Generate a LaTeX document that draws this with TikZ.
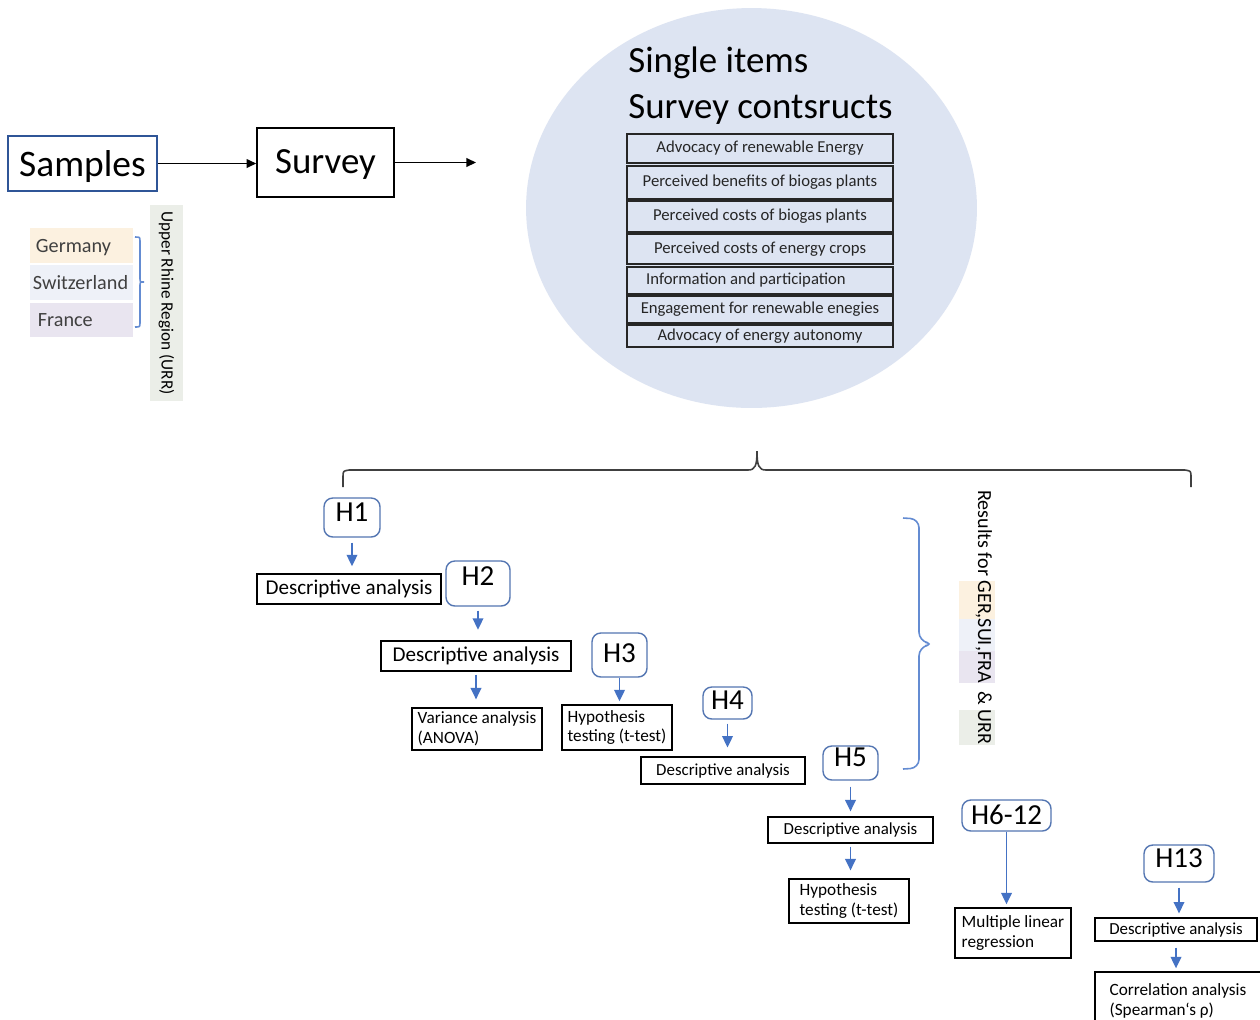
\documentclass[tikz,border=0pt]{standalone}
\usepackage{fontspec}
\setmainfont{Carlito}
\usetikzlibrary{arrows.meta,shapes.geometric}

\definecolor{circfill}{RGB}{221,228,242}
\definecolor{gerfill}{RGB}{252,241,224}
\definecolor{suifill}{RGB}{238,241,248}
\definecolor{frafill}{RGB}{233,229,240}
\definecolor{urrfill}{RGB}{235,238,232}
\definecolor{hblue}{RGB}{84,118,178}
\definecolor{ablue}{RGB}{68,114,196}
\definecolor{sblue}{RGB}{47,85,151}
\definecolor{bblue}{RGB}{100,140,210}
\definecolor{labgray}{RGB}{64,64,64}

% box given by its corners: name, x1, y1, x2, y2, style, text
\newcommand\bx[7]{%
  \node[#6, minimum width={(#4-#2)*0.02cm}, minimum height={(#5-#3)*0.02cm}]
    (#1) at ({(#2+#4)/2},{(#3+#5)/2}) {#7};}
% highlighted word inside the vertical caption
\newcommand\hlt[2]{{\setlength{\fboxsep}{0pt}\colorbox{#1}{\rule[-11pt]{0pt}{20.6pt}#2}}}

\begin{document}
\begin{tikzpicture}[x=0.02cm,y=-0.02cm,
  rowbox/.style={draw=black!85, line width=0.7pt, inner sep=0pt,
    font=\fontsize{9.5}{11}\selectfont, text=black!85},
  plainbox/.style={draw=black, line width=0.8pt, inner sep=0pt},
  descbig/.style={plainbox, font=\fontsize{12}{14}\selectfont},
  descsmall/.style={plainbox, font=\fontsize{9.6}{11}\selectfont},
  methodbox/.style={plainbox, font=\fontsize{9.8}{11.2}\selectfont, align=left},
  hbox/.style={draw=hblue, line width=0.8pt, rounded corners=5pt, inner sep=0pt,
    font=\fontsize{16.5}{18}\selectfont},
  flowarrow/.style={draw=ablue, line width=1pt, -{Triangle[length=6.5pt,width=6pt]}},
  pointer/.style={draw=black, line width=0.8pt, -{Triangle[length=5.5pt,width=5pt]}},
  country/.style={inner sep=0pt, text depth=0pt, text=labgray,
    font=\fontsize{11.5}{13}\selectfont, align=left, text width=2.06cm},
  bracepen/.style={draw=bblue, line width=0.9pt},
  bigbrace/.style={draw=black!75, line width=0.9pt},
  heading/.style={anchor=base west, inner sep=0pt, font=\fontsize{21}{25}\selectfont}]

\useasboundingbox (0,0) rectangle (1260,1019);
\fill[white] (0,0) rectangle (1260,1019);

% ---------- survey constructs ----------
\node[ellipse, fill=circfill, inner sep=0pt, minimum width=9.02cm, minimum height=8cm]
  (cloud) at (751.5,208) {};
\node[heading] (single) at (628,72) {Single items};
\node[heading] (constr) at (628,118) {Survey contsructs};

\bx{r1}{627}{134}{893}{163}{rowbox}{Advocacy of renewable Energy}
\bx{r2}{627}{166}{893}{199}{rowbox}{Perceived benefits of biogas plants}
\bx{r3}{627}{201}{893}{232}{rowbox}{Perceived costs of biogas plants}
\bx{r4}{627}{234}{893}{264}{rowbox}{Perceived costs of energy crops}
\bx{r5}{627}{267}{893}{294}{rowbox}{Information and participation\hspace*{16pt}}
\bx{r6}{627}{296}{893}{323}{rowbox}{Engagement for renewable enegies}
\bx{r7}{627}{325}{893}{347}{rowbox}{Advocacy of energy autonomy}

% ---------- samples and survey ----------
\bx{samples}{8}{136}{157}{191}{draw=sblue, line width=0.9pt, inner sep=0pt, text depth=0pt,
  font=\fontsize{21.3}{25}\selectfont}{Samples}
\bx{survey}{257}{128}{394}{197}{draw=black, line width=0.9pt, inner sep=0pt, text depth=1pt,
  font=\fontsize{21}{25}\selectfont}{Survey}
\coordinate (survout) at (476,160);
\draw[pointer] (samples.east) -- (samples.east -| survey.west);
\draw[pointer] (survey.east) -- (survey.east -| survout);

\bx{ger}{30}{228}{133}{263}{country, fill=gerfill}{\hspace*{3.4pt}Germany}
\bx{sui}{30}{265}{133}{300}{country, fill=suifill}{\hspace*{1.7pt}Switzerland}
\bx{fra}{30}{303}{133}{337}{country, fill=frafill}{\hspace*{4.5pt}France}
\draw[bracepen] (135,237) .. controls (140,237) .. (140,242) -- (140,278)
  .. controls (140,282) .. (144,282) .. controls (140,282) .. (140,286) -- (140,322)
  .. controls (140,327) .. (135,327);
\node[rotate=-90, fill=urrfill, minimum width=3.92cm, minimum height=0.66cm, inner sep=0pt,
  font=\fontsize{9.8}{11}\selectfont] (urr) at (166.5,303) {Upper Rhine Region (URR)};

% ---------- hypotheses ----------
\draw[bigbrace] (343,487) -- (343,477) .. controls (343,471) .. (349,470) -- (748,470)
  .. controls (755,470) and (757,466) .. (757,451)
  .. controls (757,466) and (759,470) .. (766,470) -- (1185,470)
  .. controls (1191,471) .. (1191,477) -- (1191,487);

\bx{h1}{324}{498}{380}{537}{hbox, text depth=5.7pt}{H1}
\bx{d1}{257}{574}{441}{604}{descbig}{Descriptive analysis}
\bx{h2}{446}{561}{510}{606}{hbox, text depth=8pt}{H2}
\bx{d2}{381}{641}{571}{671}{descbig}{Descriptive analysis}
\bx{anova}{412}{708}{542}{750}{methodbox}{Variance analysis\\(ANOVA)}
\bx{h3}{592}{633}{647}{677}{hbox, text depth=1.7pt}{H3}
\bx{t1}{562}{705}{672}{750}{methodbox}{Hypothesis\\testing (t-test)}
\bx{h4}{703}{687}{752}{719}{hbox, text depth=3.4pt}{H4}
\bx{d4}{641}{757}{805}{784}{descsmall}{Descriptive analysis}
\bx{h5}{823}{746}{878}{780}{hbox, text depth=6.8pt}{H5}
\bx{d5}{768}{817}{933}{843}{descsmall}{Descriptive analysis}
\bx{t2}{789}{879}{909}{923}{methodbox}{Hypothesis\\testing (t-test)}
\bx{h6}{962}{800}{1051}{831}{hbox, text depth=1.1pt}{H6-12}
\bx{mlr}{955}{908}{1071}{958}{methodbox}{Multiple linear\\regression}
\bx{h13}{1144}{845}{1214}{882}{hbox, text depth=5.7pt}{H13}
\bx{d13}{1095}{918}{1257}{941}{descsmall}{Descriptive analysis}
\bx{corr}{1095}{972}{1261}{1030}{methodbox}{Correlation analysis\\(Spearman‘s ρ)}

\draw[flowarrow, shorten <=2.8pt, shorten >=4pt] (h1.south) -- (h1.south |- d1.north);
\draw[flowarrow, shorten <=2.2pt, shorten >=6pt] (h2.south) -- (h2.south |- d2.north);
\draw[flowarrow, shorten <=1.7pt, shorten >=4.5pt] (d2.south) -- (d2.south |- anova.north);
\draw[flowarrow, shorten <=0pt, shorten >=1.7pt] (h3.south) -- (h3.south |- t1.north);
\draw[flowarrow, shorten <=2.2pt, shorten >=5pt] (h4.south) -- (h4.south |- d4.north);
\draw[flowarrow, shorten <=3.4pt, shorten >=2.8pt] (h5.south) -- (h5.south |- d5.north);
\draw[flowarrow, shorten <=1.7pt, shorten >=4.5pt] (d5.south) -- (d5.south |- t2.north);
\draw[flowarrow, shorten <=0pt, shorten >=1.7pt] (h6.south) -- (h6.south |- mlr.north);
\draw[flowarrow, shorten <=2.8pt, shorten >=2.2pt] (h13.south) -- (h13.south |- d13.north);
\draw[flowarrow, shorten <=3.4pt, shorten >=1.7pt] (d13.south) -- (d13.south |- corr.north);

% ---------- results caption ----------
\draw[bracepen, rounded corners=5pt] (903,518) -- (919,519) -- (919,641) -- (934,644)
  -- (919,647) -- (919,768) -- (903,769);
\node[rotate=-90, anchor=base west, inner sep=0pt, font=\fontsize{11.4}{13}\selectfont]
  (results) at (978,490)
  {Results for \hlt{gerfill}{GER,}\hlt{suifill}{SUI,}\hlt{frafill}{FRA}\ \ \&\ \hlt{urrfill}{URR}};

\end{tikzpicture}
\end{document}
